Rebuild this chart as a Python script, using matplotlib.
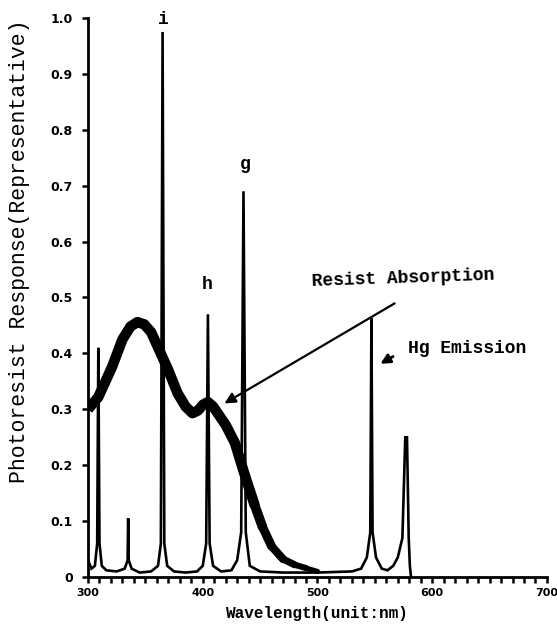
import matplotlib.pyplot as plt
import numpy as np

# Hg emission spectrum (nm, relative response)
emis_wl = [300.0, 303, 306, 308, 309, 310, 312, 316, 325, 332, 334.5, 335, 335.5, 338,
           345, 355, 361, 363.5, 365, 366.5, 369, 375, 385, 395, 400, 403, 404.5, 406,
           409, 416, 425, 430, 433.5, 435.5, 437.5, 441, 450, 470, 500, 530, 538, 543,
           546, 547, 548, 551, 556, 561, 566, 570, 574, 576.5, 578, 579.5, 580.5, 581.5]
emis_val = [0.03, 0.015, 0.02, 0.06, 0.41, 0.06, 0.02, 0.012, 0.01, 0.015, 0.03, 0.105, 0.03, 0.015,
            0.008, 0.01, 0.02, 0.06, 0.975, 0.06, 0.02, 0.01, 0.008, 0.01, 0.02, 0.06, 0.47, 0.06,
            0.02, 0.01, 0.012, 0.03, 0.08, 0.69, 0.08, 0.02, 0.01, 0.008, 0.008, 0.01, 0.015, 0.035,
            0.08, 0.463, 0.08, 0.035, 0.015, 0.012, 0.02, 0.035, 0.07, 0.25, 0.25, 0.07, 0.02, 0.0]

# resist absorption curve
abs_wl = [300, 309, 321, 330, 337, 343, 349, 355, 361, 370, 378, 385, 391, 396, 400, 404.5,
          409, 413, 420, 428, 437, 445, 452, 460, 470, 480, 490, 500]
abs_val = [0.30, 0.322, 0.376, 0.425, 0.448, 0.456, 0.452, 0.438, 0.411, 0.37, 0.329, 0.305,
           0.293, 0.298, 0.308, 0.313, 0.305, 0.293, 0.272, 0.24, 0.18, 0.13, 0.09, 0.055,
           0.032, 0.022, 0.016, 0.01]

line_names = ["i", "h", "g"]
line_wl = [365.4, 403.7, 436.8]
line_lab_y = [0.982, 0.508, 0.722]

mono = "Liberation Mono"

fig = plt.figure(figsize=(5.57, 6.35), dpi=100)
ax = fig.add_axes([0.158, 0.0913, 0.824, 0.8804])

ax.plot(emis_wl, emis_val, color="black", lw=1.9, solid_joinstyle="miter")

# thick absorption curve that tapers towards the tail
split = abs_wl.index(437)
ax.plot(abs_wl[:split + 1], abs_val[:split + 1], color="black", lw=7.5,
        solid_joinstyle="round", solid_capstyle="butt")
for k in range(split, len(abs_wl) - 1):
    w = abs_wl[k]
    lw = 7.5 - (w - 437) / 63 * 4.5
    ax.plot(abs_wl[k:k + 2], abs_val[k:k + 2], color="black", lw=lw,
            solid_capstyle="round")

for n, x, y in zip(line_names, line_wl, line_lab_y):
    ax.text(x, y, n, ha="center", va="bottom", fontsize=13, fontweight="bold",
            family=mono)

ax.annotate("", xy=(416.8, 0.308), xytext=(569.3, 0.492),
            arrowprops=dict(arrowstyle="-|>", lw=1.6, color="black", mutation_scale=16))
ax.text(574.5, 0.535, "Resist Absorption", ha="center", va="center", rotation=2,
        fontsize=13, fontweight="bold", family=mono)

ax.annotate("", xy=(552.7, 0.379), xytext=(568.0, 0.397),
            arrowprops=dict(arrowstyle="-|>", lw=2, color="black", mutation_scale=14))
ax.text(630.0, 0.408, "Hg Emission", ha="center", va="center",
        fontsize=13, fontweight="bold", family=mono)

ax.set_xlim(300, 700)
ax.set_ylim(0, 1.0)
ax.spines["top"].set_visible(False)
ax.spines["right"].set_visible(False)
for s in ["left", "bottom"]:
    ax.spines[s].set_linewidth(2)

ax.set_xticks([300, 400, 500, 600, 700])
ax.set_xticks(np.arange(300, 701, 10), minor=True)
ax.set_yticks(np.arange(0, 1.01, 0.1))
ax.set_yticklabels(["0", "0.1", "0.2", "0.3", "0.4", "0.5", "0.6", "0.7", "0.8", "0.9", "1.0"])
ax.tick_params(axis="both", which="both", direction="out", width=1.8, length=4)
ax.tick_params(axis="x", pad=4, labelsize=8)
ax.tick_params(axis="y", pad=7, labelsize=9)
for t in ax.get_xticklabels() + ax.get_yticklabels():
    t.set_fontweight("bold")

ax.set_xlabel("Wavelength(unit:nm)", family=mono, fontsize=11.5, fontweight="bold", labelpad=6)
ax.set_ylabel("Photoresist Response(Representative)", family=mono, fontsize=15.5, labelpad=10)
ax.yaxis.set_label_coords(-0.127, 0.583)

fig.savefig("out.png", dpi=100)
